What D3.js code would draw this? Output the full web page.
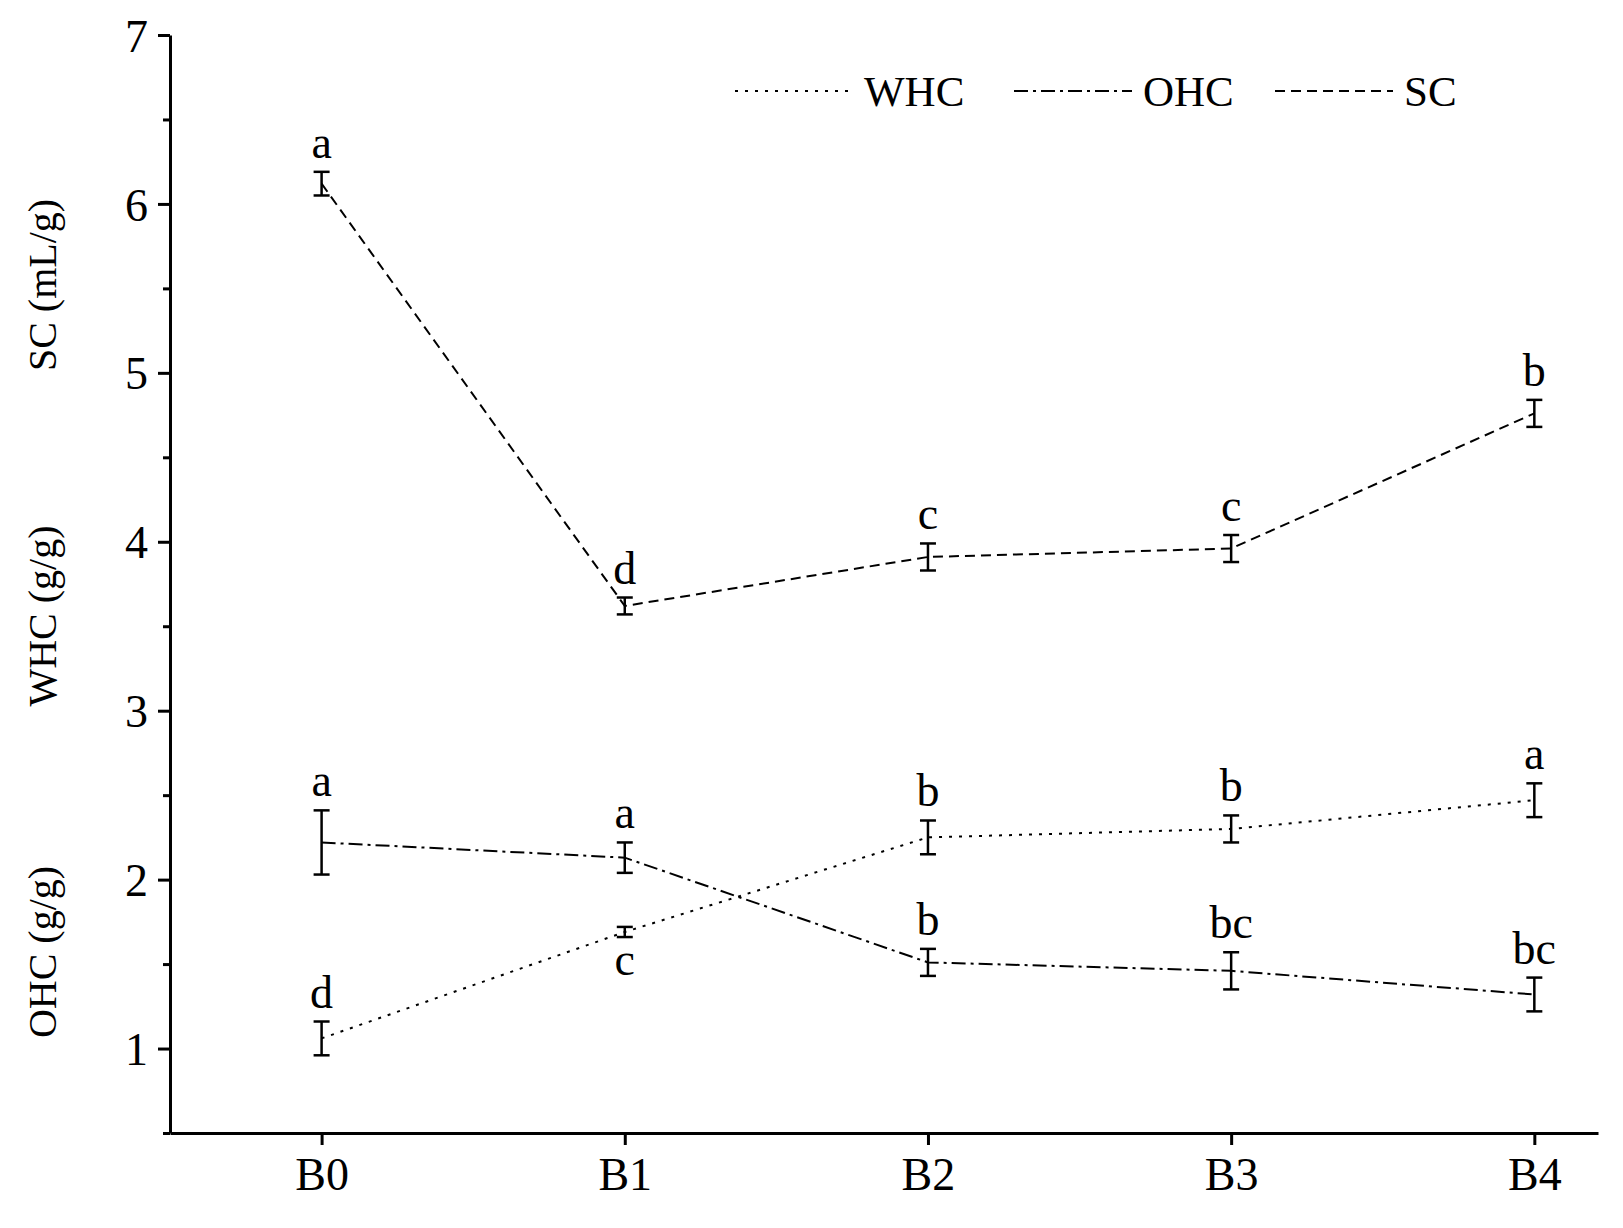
<!DOCTYPE html><html><head><meta charset="utf-8"><script src="https://cdn.jsdelivr.net/npm/d3@7"></script>
<style>body{margin:0;background:#fff}svg text{font-family:"Times New Roman","Liberation Serif",Times,serif !important;fill:#000}</style></head><body><svg id="c" width="1623" height="1228"></svg><script>
const categories=["B0","B1","B2","B3","B4"];
const sc=[6.12,3.62,3.91,3.96,4.76], scErr=[0.07,0.05,0.08,0.08,0.08], scLab=["a","d","c","c","b"];
const whc=[1.06,1.69,2.25,2.30,2.47], whcErr=[0.10,0.03,0.10,0.08,0.10], whcLab=["d","c","b","b","a"];
const ohc=[2.22,2.13,1.51,1.46,1.32], ohcErr=[0.19,0.09,0.08,0.11,0.10], ohcLab=["a","a","b","bc","bc"];
const yTicks=[1,2,3,4,5,6,7];
const svg=d3.select("#c");
const x=d3.scaleLinear().domain([-0.5,4.21]).range([170,1598]);
const y=d3.scaleLinear().domain([0.5,7]).range([1133,35]);
const ya=svg.append("g").attr("transform","translate(170,0)").call(d3.axisLeft(y).tickValues(yTicks).tickFormat(d3.format("d")).tickSize(12).tickSizeOuter(0).tickPadding(10));
ya.selectAll(".tick text").style("font-size","46px").attr("dy","0.35em");
svg.append("g").attr("transform","translate(170,0)").call(d3.axisLeft(y).tickValues(d3.range(0.5,7,1)).tickSize(7).tickFormat("").tickSizeOuter(0)).select(".domain").remove();
const xa=svg.append("g").attr("transform","translate(0,1133)").call(d3.axisBottom(x).tickValues(d3.range(5)).tickFormat(i=>categories[i]).tickSize(12).tickSizeOuter(0).tickPadding(12));
xa.selectAll(".tick text").style("font-size","46px");
svg.selectAll(".domain,.tick line").attr("stroke","#000").attr("stroke-width",3);
function series(v,e,dash,lab,pos){
  const line=d3.line().x((d,i)=>x(i)).y(d=>y(d));
  svg.append("path").datum(v).attr("d",line).attr("fill","none").attr("stroke","#000").attr("stroke-width",2).attr("stroke-dasharray",dash);
  v.forEach((d,i)=>{
    const g=svg.append("g").attr("stroke","#000").attr("stroke-width",2.5);
    g.append("line").attr("x1",x(i)).attr("x2",x(i)).attr("y1",y(d-e[i])).attr("y2",y(d+e[i]));
    [d-e[i],d+e[i]].forEach(t=>g.append("line").attr("x1",x(i)-8).attr("x2",x(i)+8).attr("y1",y(t)).attr("y2",y(t)));
    const below=pos[i]<0;
    svg.append("text").attr("x",x(i)).attr("y",below?y(d-e[i])+38:y(d+e[i])-14).attr("text-anchor","middle").style("font-size","46px").text(lab[i]);
  });
}
series(sc,scErr,"10,6",scLab,[1,1,1,1,1]);
series(whc,whcErr,"3,7",whcLab,[1,-1,1,1,1]);
series(ohc,ohcErr,"14,5,3,5",ohcLab,[1,1,1,1,1]);
const leg=[["WHC","3,7",735],["OHC","14,5,3,5",1014],["SC","10,6",1275]];
leg.forEach(([t,dash,lx])=>{
  svg.append("line").attr("x1",lx).attr("x2",lx+118).attr("y1",91).attr("y2",91).attr("stroke","#000").attr("stroke-width",2).attr("stroke-dasharray",dash);
  svg.append("text").attr("x",lx+129).attr("y",106).style("font-size","43px").text(t);
});
[["SC (mL/g)",285],["WHC (g/g)",616],["OHC (g/g)",952]].forEach(([t,cy])=>{
  svg.append("text").attr("transform",`translate(56,${cy}) rotate(-90)`).attr("text-anchor","middle").style("font-size","40px").text(t);
});
</script></body></html>
